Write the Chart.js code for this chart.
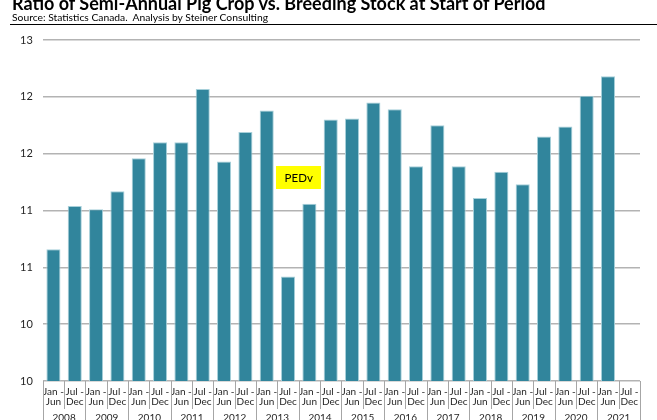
<!DOCTYPE html>
<html>
<head>
<meta charset="utf-8">
<script src="https://cdn.jsdelivr.net/npm/chart.js@4/dist/chart.umd.min.js"></script>
<style>
  html, body { margin:0; padding:0; background:#fff; }
  #wrap { position:relative; width:657px; height:420px; overflow:hidden; background:#fff; }
  #title { position:absolute; left:12px; top:-6px; font:bold 18px/18px Lato, sans-serif; color:#000; white-space:nowrap; }
  #sub { position:absolute; left:12px; top:11px; font:10.3px/12px Lato, sans-serif; color:#000; white-space:nowrap; }
  #rule { position:absolute; left:10px; top:24px; width:647px; height:1px; background:#000; }
  #c { position:absolute; left:0; top:0; }
</style>
</head>
<body>
<div id="wrap">
  <canvas id="c" width="657" height="430"></canvas>
  <div id="title">Ratio of Semi-Annual Pig Crop vs. Breeding Stock at Start of Period</div>
  <div id="sub">Source: Statistics Canada.&nbsp; Analysis by Steiner Consulting</div>
  <div id="rule"></div>
</div>
<script>
// ---- data ----
const years = ['2008','2009','2010','2011','2012','2013','2014','2015','2016','2017','2018','2019','2020','2021'];
const halves = [['Jan -','Jun'], ['Jul -','Dec']];
const ratios = [
  11.16, 11.54, 11.51, 11.67,   // 2008, 2009
  11.96, 12.10, 12.10, 12.57,   // 2010, 2011
  11.93, 12.19, 12.38, 10.92,   // 2012, 2013
  11.56, 12.30, 12.31, 12.45,   // 2014, 2015
  12.39, 11.89, 12.25, 11.89,   // 2016, 2017
  11.61, 11.84, 11.73, 12.15,   // 2018, 2019
  12.24, 12.51, 12.68, null     // 2020, 2021
];
const yTickLabels = ['10','10','11','11','12','12','13'];
const annotationText = 'PEDv';
const annotationAt = { x: 11.5, y: 11.79 };

const halfLabels = [];
years.forEach(() => halves.forEach(h => halfLabels.push(h)));

const FONT = 'Lato, sans-serif';

const sepPlugin = {
  id: 'seps',
  afterDraw(chart) {
    const ctx = chart.ctx, xs = chart.scales.x, x2 = chart.scales.x2, ys = chart.scales.y;
    const n = halfLabels.length, w = (xs.right - xs.left) / n;
    ctx.save();
    ctx.strokeStyle = '#a6a6a6';
    ctx.lineWidth = 1;
    for (let i = 0; i <= n; i++) {
      const px = Math.round(xs.left + i * w) + 0.5;
      const bottom = (i % 2 === 0) ? x2.bottom + 10 : xs.bottom - 4;
      ctx.beginPath();
      ctx.moveTo(px, xs.top);
      ctx.lineTo(px, bottom);
      ctx.stroke();
    }
    // annotation
    const ax = xs.getPixelForValue(annotationAt.x), ay = ys.getPixelForValue(annotationAt.y);
    ctx.font = '11.5px ' + FONT;
    const tw = ctx.measureText(annotationText).width;
    const bw = tw + 17, bh = 23;
    ctx.fillStyle = '#ffff00';
    ctx.fillRect(Math.round(ax - bw / 2), Math.round(ay - bh / 2), Math.round(bw), bh);
    ctx.fillStyle = '#000';
    ctx.textAlign = 'center';
    ctx.textBaseline = 'middle';
    ctx.fillText(annotationText, ax, ay + 1);
    ctx.restore();
  }
};

new Chart(document.getElementById('c'), {
  type: 'bar',
  data: {
    labels: halfLabels,
    datasets: [{
      data: ratios,
      backgroundColor: '#31859c',
      borderColor: '#a7d0da',
      borderWidth: 1,
      categoryPercentage: 1,
      barPercentage: 0.66
    }]
  },
  options: {
    responsive: false,
    animation: false,
    devicePixelRatio: 1,
    layout: { padding: { left: 10, right: 17, top: 40, bottom: 7 } },
    plugins: { legend: { display: false }, tooltip: { enabled: false }, title: { display: false } },
    scales: {
      y: {
        min: 10, max: 13,
        ticks: {
          stepSize: 0.5,
          padding: 10,
          color: '#262626',
          font: { family: FONT, size: 11 },
          callback: (v, i) => yTickLabels[i]
        },
        grid: { color: '#b3b3b3', lineWidth: 1.5, drawTicks: false },
        border: { display: false }
      },
      x: {
        offset: true,
        ticks: {
          autoSkip: false, maxRotation: 0, padding: 6,
          color: '#262626',
          font: { family: FONT, size: 10, lineHeight: 1.0 }
        },
        grid: { display: false, drawTicks: false },
        border: { display: false }
      },
      x2: {
        type: 'category',
        position: 'bottom',
        labels: years,
        offset: true,
        ticks: {
          autoSkip: false, maxRotation: 0, padding: 0,
          color: '#262626',
          font: { family: FONT, size: 10, lineHeight: 1.0 }
        },
        grid: { display: false, drawTicks: false },
        border: { display: false }
      }
    }
  },
  plugins: [sepPlugin]
});
</script>
</body>
</html>
